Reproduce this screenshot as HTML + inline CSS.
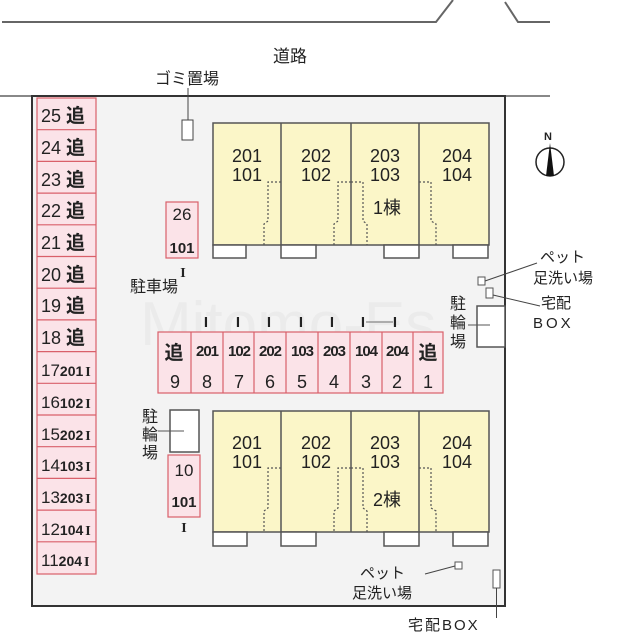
<!DOCTYPE html>
<html><head><meta charset="utf-8"><style>
html,body{margin:0;padding:0;background:#fff}
svg{display:block}
text{font-family:"Liberation Sans","Noto Sans CJK JP",sans-serif;fill:#222}
.m{font-family:"Liberation Serif",serif;font-weight:bold}
</style></head><body>
<svg width="620" height="640" viewBox="0 0 620 640" xmlns="http://www.w3.org/2000/svg">
<polyline points="2,22 436,22 453,0" fill="none" stroke="#666" stroke-width="2"/>
<polyline points="505,2 518,22 550,22" fill="none" stroke="#666" stroke-width="2"/>
<line x1="0" y1="96" x2="550" y2="96" stroke="#888" stroke-width="2"/>
<text x="290" y="62" font-size="17" text-anchor="middle">道路</text>
<text x="187" y="84" font-size="16" text-anchor="middle">ゴミ置場</text>
<rect x="32" y="96" width="473" height="510" fill="#f3f3f3" stroke="#333" stroke-width="2"/>
<line x1="188" y1="88" x2="188" y2="120" stroke="#444" stroke-width="1"/>
<rect x="182" y="120" width="11" height="20" fill="#fff" stroke="#444"/>
<g stroke="#d9606a" stroke-width="1.2" fill="#fbe3e8">
<rect x="37" y="98" width="59" height="476"/>
</g>
<g stroke="#d9606a" stroke-width="1.2">
<line x1="37" y1="129.7" x2="96" y2="129.7"/><line x1="37" y1="161.4" x2="96" y2="161.4"/>
<line x1="37" y1="193.1" x2="96" y2="193.1"/><line x1="37" y1="224.8" x2="96" y2="224.8"/>
<line x1="37" y1="256.5" x2="96" y2="256.5"/><line x1="37" y1="288.2" x2="96" y2="288.2"/>
<line x1="37" y1="319.9" x2="96" y2="319.9"/><line x1="37" y1="351.6" x2="96" y2="351.6"/>
<line x1="37" y1="383.3" x2="96" y2="383.3"/><line x1="37" y1="415" x2="96" y2="415"/>
<line x1="37" y1="446.7" x2="96" y2="446.7"/><line x1="37" y1="478.4" x2="96" y2="478.4"/>
<line x1="37" y1="510.1" x2="96" y2="510.1"/><line x1="37" y1="541.8" x2="96" y2="541.8"/>
</g>
<g font-size="18">
<text x="41" y="122">25 <tspan font-weight="bold" font-size="19">追</tspan></text>
<text x="41" y="154">24 <tspan font-weight="bold" font-size="19">追</tspan></text>
<text x="41" y="186">23 <tspan font-weight="bold" font-size="19">追</tspan></text>
<text x="41" y="217">22 <tspan font-weight="bold" font-size="19">追</tspan></text>
<text x="41" y="249">21 <tspan font-weight="bold" font-size="19">追</tspan></text>
<text x="41" y="281">20 <tspan font-weight="bold" font-size="19">追</tspan></text>
<text x="41" y="312">19 <tspan font-weight="bold" font-size="19">追</tspan></text>
<text x="41" y="344">18 <tspan font-weight="bold" font-size="19">追</tspan></text>
</g>
<g font-size="17">
<text x="41" y="376">17<tspan font-size="14" font-weight="bold">201</tspan><tspan class="m" font-size="14" dx="2">I</tspan></text>
<text x="41" y="408">16<tspan font-size="14" font-weight="bold">102</tspan><tspan class="m" font-size="14" dx="2">I</tspan></text>
<text x="41" y="440">15<tspan font-size="14" font-weight="bold">202</tspan><tspan class="m" font-size="14" dx="2">I</tspan></text>
<text x="41" y="471">14<tspan font-size="14" font-weight="bold">103</tspan><tspan class="m" font-size="14" dx="2">I</tspan></text>
<text x="41" y="503">13<tspan font-size="14" font-weight="bold">203</tspan><tspan class="m" font-size="14" dx="2">I</tspan></text>
<text x="41" y="535">12<tspan font-size="14" font-weight="bold">104</tspan><tspan class="m" font-size="14" dx="2">I</tspan></text>
<text x="41" y="566">11<tspan font-size="14" font-weight="bold">204</tspan><tspan class="m" font-size="14" dx="2">I</tspan></text>
</g>
<text x="140" y="345" font-size="62" style="fill:#ebebeb" font-family="Liberation Sans">Mitomo-Es</text>
<g stroke="#555" stroke-width="1.5">
<rect x="213" y="123" width="276" height="122" fill="#fbf6c8"/>
<line x1="281" y1="123" x2="281" y2="245"/><line x1="351" y1="123" x2="351" y2="245"/><line x1="419" y1="123" x2="419" y2="245"/>
<rect x="213" y="245" width="33" height="13" fill="#fff"/><rect x="281" y="245" width="35" height="13" fill="#fff"/>
<rect x="384" y="245" width="35" height="13" fill="#fff"/><rect x="453" y="245" width="35" height="13" fill="#fff"/>
</g>
<g stroke="#555" stroke-width="1.2" stroke-dasharray="2,2" fill="none">
<polyline points="281,182 268,182 268,221 264,224 264,245"/>
<polyline points="351,182 338,182 338,221 334,224 334,245"/>
<polyline points="351,182 363,182 363,221 367,224 367,245"/>
<polyline points="419,182 431,182 431,221 436,224 436,245"/>
</g>
<g font-size="18" text-anchor="middle">
<text x="247" y="162">201</text><text x="247" y="181">101</text>
<text x="316" y="162">202</text><text x="316" y="181">102</text>
<text x="385" y="162">203</text><text x="385" y="181">103</text>
<text x="457" y="162">204</text><text x="457" y="181">104</text>
<text x="387" y="214">1棟</text>
</g>
<g stroke="#555" stroke-width="1.5">
<rect x="213" y="411" width="276" height="121" fill="#fbf6c8"/>
<line x1="281" y1="411" x2="281" y2="532"/><line x1="351" y1="411" x2="351" y2="532"/><line x1="419" y1="411" x2="419" y2="532"/>
<rect x="213" y="532" width="34" height="14" fill="#fff"/><rect x="281" y="532" width="35" height="14" fill="#fff"/>
<rect x="384" y="532" width="35" height="14" fill="#fff"/><rect x="453" y="532" width="35" height="14" fill="#fff"/>
</g>
<g stroke="#555" stroke-width="1.2" stroke-dasharray="2,2" fill="none">
<polyline points="281,468 268,468 268,508 264,511 264,532"/>
<polyline points="351,468 338,468 338,508 334,511 334,532"/>
<polyline points="351,468 363,468 363,508 367,511 367,532"/>
<polyline points="419,468 431,468 431,508 436,511 436,532"/>
</g>
<g font-size="18" text-anchor="middle">
<text x="247" y="449">201</text><text x="247" y="468">101</text>
<text x="316" y="449">202</text><text x="316" y="468">102</text>
<text x="385" y="449">203</text><text x="385" y="468">103</text>
<text x="457" y="449">204</text><text x="457" y="468">104</text>
<text x="387" y="506">2棟</text>
</g>
<g stroke="#d9606a" stroke-width="1.2" fill="#fbe3e8">
<rect x="158" y="332" width="285" height="61"/>
</g>
<g stroke="#d9606a" stroke-width="1.2">
<line x1="191" y1="332" x2="191" y2="393"/><line x1="223" y1="332" x2="223" y2="393"/>
<line x1="254" y1="332" x2="254" y2="393"/><line x1="286" y1="332" x2="286" y2="393"/>
<line x1="318" y1="332" x2="318" y2="393"/><line x1="350" y1="332" x2="350" y2="393"/>
<line x1="382" y1="332" x2="382" y2="393"/><line x1="413" y1="332" x2="413" y2="393"/>
</g>
<g font-size="15" class="m" text-anchor="middle">
<text x="206" y="327">I</text><text x="238" y="327">I</text><text x="269" y="327">I</text><text x="301" y="327">I</text>
<text x="332" y="327">I</text><text x="363" y="327">I</text><text x="395" y="327">I</text>
</g>
<line x1="366" y1="322" x2="393" y2="322" stroke="#444" stroke-width="0.8"/>
<g font-size="19" font-weight="bold" text-anchor="middle">
<text x="174" y="359">追</text><text x="428" y="359">追</text>
</g>
<g font-size="15" font-weight="bold" text-anchor="middle" letter-spacing="-1">
<text x="207" y="356">201</text><text x="239" y="356">102</text><text x="270" y="356">202</text>
<text x="302" y="356">103</text><text x="334" y="356">203</text><text x="366" y="356">104</text><text x="397" y="356">204</text>
</g>
<g font-size="18" text-anchor="middle">
<text x="175" y="388">9</text><text x="207" y="388">8</text><text x="239" y="388">7</text><text x="270" y="388">6</text>
<text x="302" y="388">5</text><text x="334" y="388">4</text><text x="366" y="388">3</text><text x="397" y="388">2</text><text x="428" y="388">1</text>
</g>
<rect x="166" y="202" width="32" height="56" fill="#fbe3e8" stroke="#d9606a" stroke-width="1.2"/>
<text x="182" y="220" font-size="17" text-anchor="middle">26</text>
<text x="182" y="253" font-size="15" font-weight="bold" text-anchor="middle">101</text>
<text x="183" y="277" font-size="14" class="m" text-anchor="middle">I</text>
<text x="154" y="292" font-size="16" text-anchor="middle">駐車場</text>
<rect x="170" y="410" width="29" height="42" fill="#fff" stroke="#555" stroke-width="1.5"/>
<line x1="158" y1="431" x2="184" y2="431" stroke="#555"/>
<g font-size="16" text-anchor="middle"><text x="150" y="422">駐</text><text x="150" y="440">輪</text><text x="150" y="458">場</text></g>
<rect x="168" y="455" width="32" height="62" fill="#fbe3e8" stroke="#d9606a" stroke-width="1.2"/>
<text x="184" y="476" font-size="17" text-anchor="middle">10</text>
<text x="184" y="507" font-size="15" font-weight="bold" text-anchor="middle">101</text>
<text x="184" y="532" font-size="14" class="m" text-anchor="middle">I</text>
<rect x="477" y="306" width="28" height="41" fill="#fff" stroke="#555" stroke-width="1.5"/>
<line x1="468" y1="325" x2="490" y2="325" stroke="#555"/>
<g font-size="16" text-anchor="middle"><text x="458" y="309">駐</text><text x="458" y="328">輪</text><text x="458" y="347">場</text></g>
<rect x="478" y="277" width="7" height="8" fill="#fff" stroke="#555"/>
<rect x="486" y="288" width="7" height="10" fill="#fff" stroke="#555"/>
<line x1="485" y1="281" x2="537" y2="263" stroke="#444"/>
<line x1="493" y1="295" x2="540" y2="306" stroke="#444"/>
<text x="540" y="262" font-size="15">ペット</text>
<text x="533" y="283" font-size="15">足洗い場</text>
<text x="541" y="308" font-size="15">宅配</text>
<text x="533" y="328" font-size="15" letter-spacing="3">BOX</text>
<circle cx="550" cy="162" r="14" fill="none" stroke="#222" stroke-width="1.5"/>
<polygon points="550,143 546,176 554,176" fill="#111"/>
<text x="548" y="140" font-size="11" font-weight="bold" text-anchor="middle">N</text>
<rect x="455" y="562" width="7" height="7" fill="#fff" stroke="#555"/>
<line x1="425" y1="574" x2="455" y2="566" stroke="#444"/>
<text x="360" y="578" font-size="15">ペット</text>
<text x="352" y="598" font-size="15">足洗い場</text>
<rect x="493" y="570" width="7" height="18" fill="#fff" stroke="#555"/>
<line x1="496.5" y1="588" x2="496.5" y2="618" stroke="#444"/>
<text x="408" y="630" font-size="15" letter-spacing="2">宅配BOX</text>
</svg>
</body></html>
